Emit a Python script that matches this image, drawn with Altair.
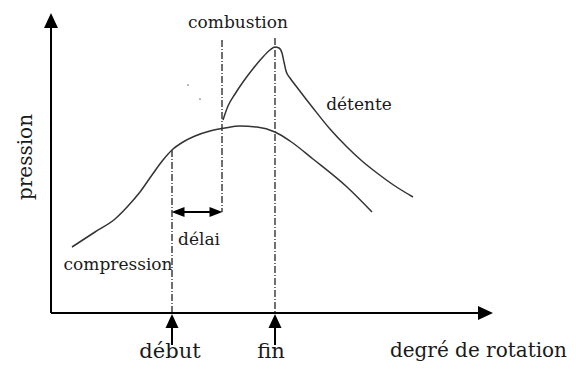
import altair as alt
import pandas as pd

# --- data (arbitrary units: x = crank angle, y = pressure) ---
comp_x = [21, 44, 64, 77, 89, 101, 112, 121, 132, 144, 159, 174, 189, 206, 224, 239, 262, 296, 321]
comp_y = [66, 81, 94, 107, 121, 138, 153, 163, 171, 177, 182, 185, 187, 186, 181, 172, 154, 126, 101]

comb_x = [172, 177, 184, 192, 201, 211, 219, 224, 228, 231, 233, 235, 239, 245, 262, 279, 296, 311, 326, 344, 362]
comb_y = [193, 207, 219, 231, 243, 255, 263, 266, 265, 260, 251, 242, 235, 227, 205, 184, 166, 152, 140, 127, 116]

# vertical markers: début, combustion, fin
mark_x = [121, 171, 224]
mark_top = [163, 273, 275]
mark_bot = [0, 101, 0]

# délai double arrow
delai_x = [127, 165]
delai_y = [101, 101]

# specks
speck_x = [137, 149]
speck_y = [228, 214]

small_labels = ["combustion", "délai", "compression", "détente"]
small_x = [187, 148, 67, 308]
small_y = [285, 68, 43, 203]

big_labels = ["début", "fin"]
big_x = [119, 220]
big_y = [-45, -45]

xs = alt.Scale(domain=[0, 442], nice=False, zero=False)
ys = alt.Scale(domain=[0, 300], nice=False, zero=False)
FONT = "DejaVu Serif"
TXT = "#1a1a1a"


def X(f="x"):
    return alt.X(f"{f}:Q", scale=xs, axis=None)


def Y(f="y"):
    return alt.Y(f"{f}:Q", scale=ys, axis=None)


comp = alt.Chart(pd.DataFrame({"x": comp_x, "y": comp_y})).mark_line(
    color="#333333", strokeWidth=1.5, interpolate="monotone"
).encode(x=X(), y=Y())

comb = alt.Chart(pd.DataFrame({"x": comb_x, "y": comb_y})).mark_line(
    color="#333333", strokeWidth=1.5, interpolate="monotone"
).encode(x=X(), y=Y())

markers = alt.Chart(pd.DataFrame({"x": mark_x, "y": mark_top, "y2": mark_bot})).mark_rule(
    color="#222222", strokeWidth=1.3, strokeDash=[7, 2, 1, 2]
).encode(x=X(), y=Y(), y2="y2:Q")

# axes drawn as arrows
axes_df = pd.DataFrame({"x": [0, 0], "y": [0, 0], "x2": [0, 428], "y2": [286, 0]})
axes = alt.Chart(axes_df).mark_rule(color="black", strokeWidth=2).encode(
    x=X(), y=Y(), x2="x2:Q", y2="y2:Q"
)

up_arrow = "M0,-1L0.93,1L-0.93,1Z"
right_arrow = "M1,0L-1,-0.93L-1,0.93Z"
left_tri = "M-1,0L1,-0.77L1,0.77Z"
right_tri = "M1,0L-1,-0.77L-1,0.77Z"

yhead = alt.Chart(pd.DataFrame({"x": [0], "y": [292.5]})).mark_point(
    shape=up_arrow, size=225, filled=True, color="black", opacity=1, strokeWidth=0
).encode(x=X(), y=Y())
xhead = alt.Chart(pd.DataFrame({"x": [434.5], "y": [0]})).mark_point(
    shape=right_arrow, size=225, filled=True, color="black", opacity=1, strokeWidth=0
).encode(x=X(), y=Y())

# début / fin arrows below axis
tick_x = [121, 224]
tick_heads = alt.Chart(pd.DataFrame({"x": tick_x, "y": [-8, -8]})).mark_point(
    shape=up_arrow, size=196, filled=True, color="black", opacity=1, strokeWidth=0
).encode(x=X(), y=Y())
tick_shafts = alt.Chart(pd.DataFrame({"x": tick_x, "y": [-14, -14], "y2": [-32, -32]})).mark_rule(
    color="black", strokeWidth=2
).encode(x=X(), y=Y(), y2="y2:Q")

# délai arrow
delai_line = alt.Chart(pd.DataFrame({"x": [delai_x[0] + 1], "x2": [delai_x[1] - 1], "y": [delai_y[0]]})).mark_rule(
    color="black", strokeWidth=2
).encode(x=X(), x2="x2:Q", y=Y())
delai_l = alt.Chart(pd.DataFrame({"x": [delai_x[0]], "y": [delai_y[0]]})).mark_point(
    shape=left_tri, size=169, filled=True, color="black", opacity=1, strokeWidth=0
).encode(x=X(), y=Y())
delai_r = alt.Chart(pd.DataFrame({"x": [delai_x[1]], "y": [delai_y[1]]})).mark_point(
    shape=right_tri, size=169, filled=True, color="black", opacity=1, strokeWidth=0
).encode(x=X(), y=Y())

specks = alt.Chart(pd.DataFrame({"x": speck_x, "y": speck_y})).mark_point(
    shape="circle", size=3, filled=True, color="#777777", opacity=1
).encode(x=X(), y=Y())

small_txt = alt.Chart(pd.DataFrame({"label": small_labels, "x": small_x, "y": small_y})).mark_text(
    font=FONT, fontSize=17, color=TXT, align="center", baseline="alphabetic"
).encode(x=X(), y=Y(), text="label:N")

big_txt = alt.Chart(pd.DataFrame({"label": big_labels, "x": big_x, "y": big_y})).mark_text(
    font=FONT, fontSize=21, color=TXT, align="center", baseline="alphabetic"
).encode(x=X(), y=Y(), text="label:N")

xlabel = alt.Chart(pd.DataFrame({"label": ["degré de rotation"], "x": [516], "y": [-44]})).mark_text(
    font=FONT, fontSize=20, color=TXT, align="right", baseline="alphabetic"
).encode(x=X(), y=Y(), text="label:N")

ylabel = alt.Chart(pd.DataFrame({"label": ["pression"], "x": [-19], "y": [156]})).mark_text(
    font=FONT, fontSize=20, color=TXT, align="center", baseline="alphabetic", angle=270
).encode(x=X(), y=Y(), text="label:N")

chart = alt.layer(
    markers, comp, comb, axes, yhead, xhead, tick_shafts, tick_heads,
    delai_line, delai_l, delai_r, specks, small_txt, big_txt, xlabel, ylabel
).properties(
    width=442, height=300,
    autosize=alt.AutoSizeParams(type="none"),
    padding={"left": 43, "top": 5, "right": 75, "bottom": 50},
    background="white",
).configure_view(stroke=None)

chart.save("out.html", embed_options={"renderer": "svg", "actions": False})
